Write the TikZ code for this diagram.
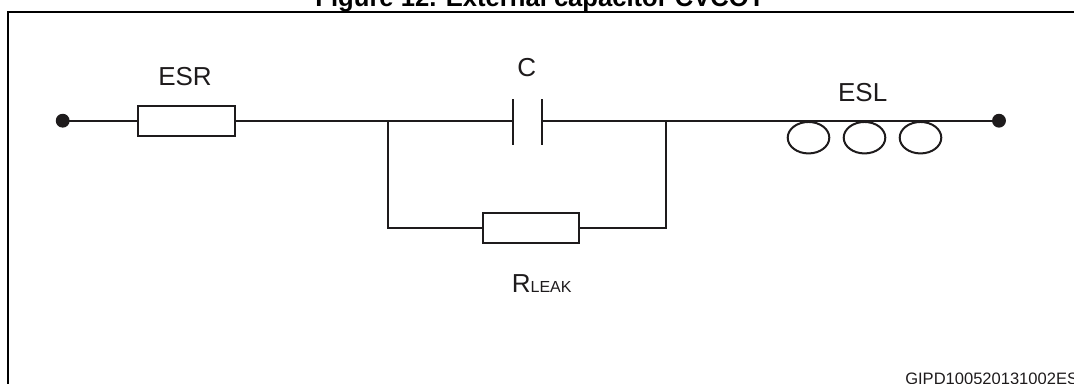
\documentclass[tikz,border=0pt]{standalone}
\usepackage{fontspec}
\setmainfont{Liberation Sans}
\usetikzlibrary{calc}
\definecolor{ink}{RGB}{30,27,28}
\tikzset{
	wire/.style={draw=ink, line width=1.5pt},
	resbox/.style={draw=ink, line width=1.5pt, fill=white, minimum width=72.6pt, minimum height=22.2pt, inner sep=0pt},
	lbl/.style={inner sep=0pt, text=ink, font=\fontsize{19.5}{21}\selectfont}
}
\def\coil(#1){\draw[wire] (#1,137.7) ellipse (15.6pt and 11.8pt);}

\begin{document}
\begin{tikzpicture}[x=0.75pt, y=-0.75pt]
				\useasboundingbox (0,0) rectangle (1074,383);
				\draw[line width=1.6pt] (8,420) |- (1120,12);
				\node[anchor=base, inner sep=0pt, font=\bfseries\fontsize{19.2}{21}\selectfont] (title) at (540,6.5) {Figure 12. External capacitor CVCOT};
				
				\coordinate (in) at (62.7,120.7);
				\coordinate (out) at (999,120.7);
				\coordinate (jl) at (388,120.7);
				\coordinate (jr) at (665.7,120.7);
				\coordinate (cl) at (513.3,120.7);
				\coordinate (cr) at (542.3,120.7);
				
				\node[resbox] (esr) at (186.5,120.7) {};
				\node[resbox] (rleak) at (531,228) {};
				
				\draw[wire] (in) -- (esr.west) (esr.east) -- (cl) (cr) -- (out);
				\draw[wire] (jl) |- (rleak.west) (rleak.east) -| (jr);
				\draw[wire] ($(cl)+(0,-21.4)$) -- ($(cl)+(0,24.3)$);
				\draw[wire] ($(cr)+(0,-21.4)$) -- ($(cr)+(0,24.3)$);
				
				\foreach \cx in {808.5,864.5,920.5} {\coil(\cx)}
				
				\fill[ink] (in) circle (5.2pt);
				\fill[ink] (out) circle (5.2pt);
				
				\node[lbl] (esrlbl) at (185,76.7) {ESR};
				\node[lbl] (clbl) at (526.7,67.3) {C};
				\node[lbl] (esllbl) at (862.7,92.3) {ESL};
				\node[lbl] (rleaklbl) at (541.7,283.7) {R{\fontsize{12}{13}\selectfont LEAK}};
				
				\node[anchor=base west, inner sep=0pt, text=ink, font=\fontsize{12.4}{13}\selectfont] (code) at (905,384.5) {GIPD100520131002ESL};
			\end{tikzpicture}
\end{document}
